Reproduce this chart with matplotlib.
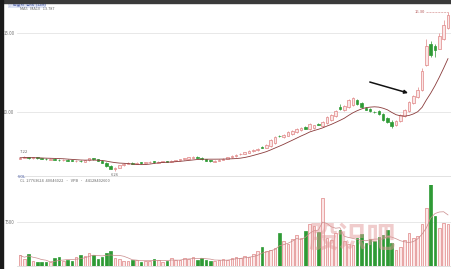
import matplotlib
matplotlib.use("Agg")
import matplotlib.pyplot as plt
from matplotlib.patches import Rectangle
import numpy as np
import pandas as pd

plt.rcParams['font.family'] = ['Noto Sans CJK SC', 'DejaVu Sans']

# Daily OHLC prices
opens = [7.05, 7.10, 7.15, 7.07, 7.13, 7.07, 7.05, 6.99, 7.04, 6.99,
         6.95, 6.99, 6.95, 6.89, 6.93, 6.86, 6.94, 7.07, 7.01, 6.92,
         6.80, 6.60, 6.40, 6.47, 6.63, 6.72, 6.79, 6.73, 6.82, 6.76,
         6.82, 6.87, 6.80, 6.84, 6.90, 6.85, 6.91, 6.95, 7.00, 7.05,
         7.10, 7.18, 7.10, 7.02, 6.95, 6.86, 6.91, 6.97, 7.04, 7.12,
         7.20, 7.31, 7.35, 7.43, 7.51, 7.58, 7.80, 7.74, 7.85, 8.05,
         8.50, 8.40, 8.50, 8.60, 8.75, 8.85, 9.05, 8.90, 9.00, 9.25,
         9.10, 9.30, 9.50, 9.75, 10.30, 10.10, 10.30, 10.45, 10.75, 10.55,
         10.28, 10.18, 10.02, 10.05, 9.88, 9.62, 9.38, 9.15, 9.40, 9.75,
         10.05, 10.55, 10.95, 11.40, 13.00, 14.30, 14.20, 14.00, 14.60, 15.30]
highs = [7.13, 7.22, 7.17, 7.15, 7.15, 7.09, 7.07, 7.06, 7.06, 7.01,
         7.02, 7.01, 6.97, 6.95, 6.95, 6.98, 7.10, 7.09, 7.03, 6.94,
         6.82, 6.63, 6.52, 6.65, 6.76, 6.81, 6.81, 6.83, 6.84, 6.86,
         6.89, 6.89, 6.87, 6.92, 6.92, 6.94, 6.99, 7.04, 7.09, 7.15,
         7.20, 7.20, 7.12, 7.04, 6.97, 6.95, 7.01, 7.08, 7.17, 7.26,
         7.34, 7.40, 7.48, 7.57, 7.64, 7.73, 7.83, 7.95, 8.30, 8.45,
         8.56, 8.60, 8.80, 8.86, 8.98, 9.06, 9.09, 9.30, 9.20, 9.30,
         9.40, 9.75, 9.86, 10.12, 10.50, 10.42, 10.80, 10.95, 10.80, 10.60,
         10.34, 10.22, 10.08, 10.10, 9.92, 9.66, 9.50, 9.52, 9.88, 10.20,
         10.70, 11.10, 11.55, 12.80, 14.60, 14.50, 14.30, 15.00, 15.80, 16.30]
lows = [7.02, 7.06, 7.05, 7.04, 7.03, 7.01, 6.97, 6.96, 6.95, 6.93,
        6.92, 6.90, 6.87, 6.86, 6.84, 6.84, 6.92, 6.97, 6.88, 6.75,
        6.54, 6.38, 6.26, 6.44, 6.60, 6.70, 6.71, 6.71, 6.74, 6.74,
        6.80, 6.78, 6.78, 6.82, 6.83, 6.83, 6.89, 6.93, 6.98, 7.03,
        7.08, 7.06, 6.98, 6.90, 6.85, 6.84, 6.89, 6.95, 7.02, 7.10,
        7.18, 7.28, 7.33, 7.40, 7.48, 7.55, 7.72, 7.71, 7.80, 8.00,
        8.40, 8.35, 8.45, 8.55, 8.70, 8.80, 8.92, 8.85, 8.95, 9.16,
        9.05, 9.25, 9.45, 9.70, 10.15, 10.05, 10.25, 10.40, 10.45, 10.25,
        10.10, 10.00, 9.95, 9.80, 9.40, 9.30, 9.00, 9.10, 9.35, 9.70,
        10.00, 10.50, 10.90, 11.35, 12.90, 13.50, 13.45, 13.95, 14.55, 15.25]
closes = [7.10, 7.14, 7.08, 7.12, 7.06, 7.04, 7.00, 7.03, 6.98, 6.96,
          6.99, 6.93, 6.90, 6.92, 6.87, 6.95, 7.06, 7.00, 6.91, 6.78,
          6.58, 6.42, 6.48, 6.62, 6.73, 6.78, 6.74, 6.80, 6.77, 6.83,
          6.86, 6.81, 6.85, 6.89, 6.86, 6.92, 6.96, 7.01, 7.06, 7.12,
          7.16, 7.09, 7.01, 6.93, 6.88, 6.92, 6.98, 7.05, 7.14, 7.22,
          7.30, 7.36, 7.44, 7.52, 7.60, 7.68, 7.75, 7.90, 8.25, 8.40,
          8.45, 8.55, 8.75, 8.80, 8.92, 9.00, 8.95, 9.25, 9.15, 9.20,
          9.35, 9.70, 9.80, 10.05, 10.20, 10.35, 10.75, 10.90, 10.50, 10.30,
          10.15, 10.05, 10.00, 9.85, 9.50, 9.35, 9.10, 9.45, 9.80, 10.10,
          10.60, 11.00, 11.40, 12.60, 14.20, 13.60, 13.90, 14.80, 15.50, 16.10]
volumes = [1800, 1200, 2100, 900, 700, 600, 650, 700, 1300, 1500,
           900, 1100, 800, 1500, 1900, 1700, 2300, 1800, 1200, 1600,
           2200, 2600, 1400, 1200, 900, 800, 1000, 1100, 700, 900,
           800, 1200, 1000, 700, 900, 1300, 1100, 1000, 1400, 1200,
           1600, 1100, 1300, 1000, 900, 800, 1000, 1200, 1100, 1400,
           1500, 1300, 1700, 1600, 2000, 2500, 3200, 2600, 2800, 3000,
           5600, 4200, 3800, 4600, 5200, 4800, 6000, 7200, 6800, 5800,
           11600, 4800, 4400, 5600, 6200, 4300, 3800, 3600, 4800, 5400,
           3900, 4600, 4200, 4900, 5300, 6200, 4000, 2800, 3200, 4400,
           5600, 4800, 5100, 7200, 9800, 14000, 8600, 6400, 7400, 7100]

price_ticks = [10, 15]
price_tick_labels = ["10.00", "15.00"]
vol_ticks = [7500]
vol_tick_labels = ["7500"]

UP_EDGE = "#e08585"
UP_FACE = "#fbe6e6"
DOWN = "#2e9a35"
MA_COLOR = "#8a3b3b"

df = pd.DataFrame({"o": opens, "h": highs, "l": lows, "c": closes, "v": volumes})
x = np.arange(len(df))
up = df["c"] >= df["o"]
ma = df["c"].rolling(10, min_periods=1).mean()
vma = df["v"].rolling(5, min_periods=1).mean()

W, H = 452, 269
fig = plt.figure(figsize=(W / 100, H / 100), dpi=100, facecolor="white")

def frac(px_left, px_top, px_w, px_h):
    return [px_left / W, 1 - (px_top + px_h) / H, px_w / W, px_h / H]

ax = fig.add_axes(frac(17, 12, 435, 164))
axv = fig.add_axes(frac(17, 185, 435, 81), sharex=ax)

# window chrome
fig.patches.append(Rectangle((0, 1 - 3 / H), 1, 3 / H, transform=fig.transFigure,
                             color="#3a3a3a", zorder=10))
fig.patches.append(Rectangle((0, 0), 3 / W, 1, transform=fig.transFigure,
                             color="#1a1a1a", zorder=10))

# candles
bw = 0.6
for i, r in df.iterrows():
    if up[i]:
        ax.vlines(i, r.l, r.h, color=UP_EDGE, lw=0.5, zorder=2)
        ax.add_patch(Rectangle((i - bw / 2, r.o), bw, max(r.c - r.o, 0.02),
                               facecolor=UP_FACE, edgecolor=UP_EDGE, lw=0.5, zorder=3))
    else:
        ax.vlines(i, r.l, r.h, color=DOWN, lw=0.5, zorder=2)
        ax.add_patch(Rectangle((i - bw / 2, r.c), bw, max(r.o - r.c, 0.02),
                               facecolor=DOWN, edgecolor=DOWN, lw=0.5, zorder=3))
ax.plot(x, ma, color=MA_COLOR, lw=0.6, zorder=4)

ax.set_xlim(-0.69, 99.93)
ax.set_ylim(5.95, 16.32)
ax.set_yticks(price_ticks)
ax.set_yticklabels(price_tick_labels)
ax.grid(axis="y", color="#e4e4e4", lw=0.6)
ax.set_axisbelow(True)
ax.tick_params(axis="y", length=0, pad=2, labelsize=3.2, labelcolor="#777777")
ax.tick_params(axis="x", length=0, labelbottom=False)
for s in ["top", "right", "left"]:
    ax.spines[s].set_visible(False)
ax.spines["bottom"].set_color("#dddddd")
ax.spines["bottom"].set_linewidth(0.6)

# price annotations
i_hi = int(np.argmax(df["h"].iloc[:10]))
ax.text(i_hi, df["h"][i_hi] + 0.12, f"{df['h'][i_hi]:.2f}", fontsize=3,
        color="#666666", ha="center", va="bottom")
i_lo = int(np.argmin(df["l"]))
ax.text(i_lo, df["l"][i_lo] - 0.1, f"{df['l'][i_lo]:.2f}", fontsize=3,
        color="#666666", ha="center", va="top")
i_top = int(np.argmax(df["h"]))
ax.plot([i_top - 5, i_top], [df["h"][i_top]] * 2, color="#d08080", lw=0.4, ls="--")
ax.text(i_top - 5.3, df["h"][i_top], f"{df['h'][i_top]:.2f}", fontsize=3,
        color="#b05050", ha="right", va="center")

ax.annotate("", xy=(0.899, 0.506), xytext=(0.811, 0.573), xycoords="axes fraction",
            arrowprops=dict(arrowstyle="-|>", color="#111111", lw=1.1,
                            mutation_scale=5, shrinkA=0, shrinkB=0))

# volume bars
vcolors = [UP_FACE if u else DOWN for u in up]
vedges = [UP_EDGE if u else DOWN for u in up]
axv.bar(x, df["v"], width=bw, color=vcolors, edgecolor=vedges, lw=0.5, zorder=3)
axv.plot(x, vma, color="#c98a8a", lw=0.5, zorder=4)
axv.set_ylim(0, 13800)
axv.set_yticks(vol_ticks)
axv.set_yticklabels(vol_tick_labels)
axv.grid(axis="y", color="#e4e4e4", lw=0.6)
axv.set_axisbelow(True)
axv.tick_params(axis="y", length=0, pad=2, labelsize=3.2, labelcolor="#777777")
axv.tick_params(axis="x", length=0, labelbottom=False)
for s in ["top", "right", "left"]:
    axv.spines[s].set_visible(False)
axv.spines["bottom"].set_color("#dddddd")
axv.spines["bottom"].set_linewidth(0.6)

axv.text(0.77, 0.35, "股识吧", transform=axv.transAxes, fontsize=21,
         color="#e39a9a", alpha=0.5, ha="center", va="center", zorder=5,
         fontweight="bold")

# header and panel captions
fig.text(8 / W, 1 - 5 / H, "▽ 前复权  日线  (12M)", fontsize=2.8, color="#3b4fa0",
         va="center", bbox=dict(facecolor="#dfe4f5", edgecolor="none", pad=0.3))
fig.text(20 / W, 1 - 9.5 / H, "MA5   MA10   13.787", fontsize=2.8, color="#666666",
         va="center")
fig.text(18 / W, 1 - 177 / H, "VOL", fontsize=2.8, color="#3b4fa0", va="center")
fig.text(20 / W, 1 - 181.5 / H, "CL  27763624  40046022  ·  VPB  ·  44128402600",
         fontsize=2.8, color="#666666", va="center")

fig.savefig("out.png", dpi=100, facecolor="white")
